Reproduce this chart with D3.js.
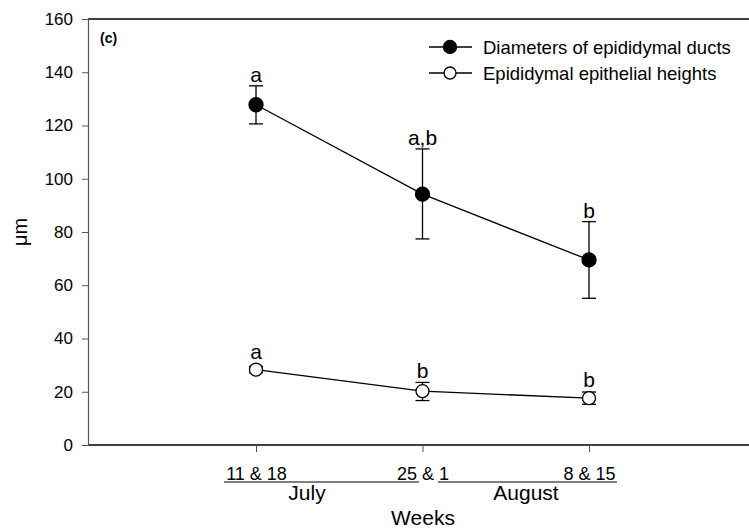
<!DOCTYPE html>
<head>
  <meta charset="utf-8">
  <script src="https://d3js.org/d3.v7.min.js"></script>
  <style>
    body { margin:0; background:white; }
    svg { display:block; font-family: Arial, "Liberation Sans", sans-serif; }
  </style>
</head>
<body>
  <script>
    // weeks (x positions 1..3)
    var weeks = ["11 & 18", "25 & 1", "8 & 15"];
    var ductMean = [127.8, 94.2, 69.5];
    var ductUp   = [134.9, 111.2, 83.9];
    var ductLo   = [120.6, 77.4, 55.1];
    var ductSig  = ["a", "a,b", "b"];
    var epiMean  = [28.3, 20.2, 17.6];
    var epiUp    = [29.5, 23.5, 19.9];
    var epiLo    = [27.1, 16.7, 15.3];
    var epiSig   = ["a", "b", "b"];
    var yTicks = [0, 20, 40, 60, 80, 100, 120, 140, 160];

    var width = 749, height = 531;
    var pLeft = 88, pRight = 749, pTop = 19, pBottom = 445;

    var svg = d3.select("body").append("svg")
        .attr("width", width).attr("height", height);

    var x = d3.scaleLinear().domain([1, 3]).range([256, 589]);
    var y = d3.scaleLinear().domain([0, 160]).range([pBottom, pTop]);

    // frame lines top / bottom
    svg.append("line").attr("x1", pLeft).attr("x2", pRight)
        .attr("y1", pTop).attr("y2", pTop).attr("stroke", "#000").attr("stroke-width", 1.3);
    svg.append("line").attr("x1", pLeft).attr("x2", pRight)
        .attr("y1", pBottom).attr("y2", pBottom).attr("stroke", "#000").attr("stroke-width", 1.3);

    // y axis
    var yAxis = svg.append("g").attr("transform", "translate(" + pLeft + ",0)")
        .call(d3.axisLeft(y).tickValues(yTicks).tickSize(6).tickPadding(9));
    yAxis.select(".domain").attr("stroke", "#555").attr("stroke-width", 1.2);
    yAxis.selectAll(".tick line").attr("stroke", "#555");
    yAxis.selectAll("text").attr("font-size", 17).attr("fill", "#000")
        .attr("font-family", "Arial, 'Liberation Sans', sans-serif");

    // x axis
    var xAxis = svg.append("g").attr("transform", "translate(0," + pBottom + ")")
        .call(d3.axisBottom(x).tickValues([1, 2, 3]).tickSize(7).tickFormat(function (d) { return weeks[d - 1]; }).tickPadding(15));
    xAxis.select(".domain").remove();
    xAxis.selectAll(".tick line").attr("stroke", "#555");
    xAxis.selectAll("text").attr("font-size", 18).attr("fill", "#000")
        .attr("font-family", "Arial, 'Liberation Sans', sans-serif");

    // month underlines and labels
    svg.append("line").attr("x1", 224).attr("x2", 419).attr("y1", 482).attr("y2", 482).attr("stroke", "#000");
    svg.append("line").attr("x1", 438).attr("x2", 617).attr("y1", 482).attr("y2", 482).attr("stroke", "#000");
    svg.append("text").attr("x", 307).attr("y", 500).attr("text-anchor", "middle")
        .attr("font-size", 21).text("July");
    svg.append("text").attr("x", 526).attr("y", 500).attr("text-anchor", "middle")
        .attr("font-size", 21).text("August");
    svg.append("text").attr("x", 423).attr("y", 525).attr("text-anchor", "middle")
        .attr("font-size", 21).text("Weeks");

    // y label
    svg.append("text").attr("transform", "translate(27," + ((pTop + pBottom) / 2) + ") rotate(-90)")
        .attr("text-anchor", "middle").attr("font-size", 20).text("μm");

    svg.append("text").attr("x", 100).attr("y", 43).attr("font-size", 14)
        .attr("font-weight", "bold").text("(c)");

    function series(mean, up, lo, sig, filled) {
      var idx = [0, 1, 2];
      var g = svg.append("g");
      g.append("path").datum(idx)
        .attr("d", d3.line().x(function (i) { return x(i + 1); }).y(function (i) { return y(mean[i]); }))
        .attr("fill", "none").attr("stroke", "#000").attr("stroke-width", 1.3);
      var eb = g.selectAll(".eb").data(idx).enter().append("g");
      eb.append("line").attr("x1", function (i) { return x(i + 1); }).attr("x2", function (i) { return x(i + 1); })
        .attr("y1", function (i) { return y(up[i]); }).attr("y2", function (i) { return y(lo[i]); })
        .attr("stroke", "#000").attr("stroke-width", 1.3);
      [up, lo].forEach(function (arr) {
        eb.append("line").attr("x1", function (i) { return x(i + 1) - 7; }).attr("x2", function (i) { return x(i + 1) + 7; })
          .attr("y1", function (i) { return y(arr[i]); }).attr("y2", function (i) { return y(arr[i]); })
          .attr("stroke", "#000").attr("stroke-width", 1.3);
      });
      eb.append("circle").attr("cx", function (i) { return x(i + 1); }).attr("cy", function (i) { return y(mean[i]); })
        .attr("r", filled ? 7 : 6.5).attr("fill", filled ? "#000" : "#fff")
        .attr("stroke", "#000").attr("stroke-width", 1.3);
      eb.append("text").attr("x", function (i) { return x(i + 1); })
        .attr("y", function (i) { return Math.min(y(up[i]), y(mean[i]) - 7) - 4; })
        .attr("text-anchor", "middle").attr("font-size", 21).text(function (i) { return sig[i]; });
    }
    series(ductMean, ductUp, ductLo, ductSig, true);
    series(epiMean, epiUp, epiLo, epiSig, false);

    // legend
    var legend = [["Diameters of epididymal ducts", true], ["Epididymal epithelial heights", false]];
    legend.forEach(function (d, k) {
      var ly = 47 + k * 26;
      svg.append("line").attr("x1", 429).attr("x2", 472).attr("y1", ly).attr("y2", ly)
        .attr("stroke", "#000").attr("stroke-width", 1.3);
      svg.append("circle").attr("cx", 450).attr("cy", ly).attr("r", d[1] ? 6.5 : 6)
        .attr("fill", d[1] ? "#000" : "#fff").attr("stroke", "#000").attr("stroke-width", 1.3);
      svg.append("text").attr("x", 483).attr("y", ly + 6.5).attr("font-size", 18.5).text(d[0]);
    });
  </script>
</body>
